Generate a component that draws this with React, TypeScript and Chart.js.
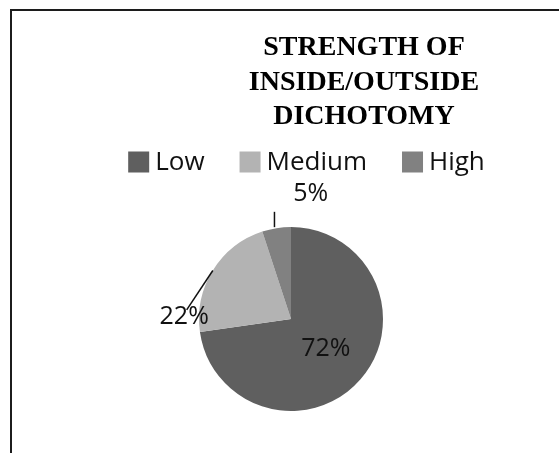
import React, { useEffect, useRef } from "react";
import { Chart, registerables } from "chart.js";

Chart.register(...registerables);

const categories = ["Low", "Medium", "High"];
const values = [72, 22, 5];
const sliceColors = ["#5f5f5f", "#b3b3b3", "#818181"];
const percentLabels = ["72%", "22%", "5%"];
const titleLines = ["STRENGTH OF", "INSIDE/OUTSIDE", "DICHOTOMY"];

const W = 559;
const H = 453;

const decorPlugin = {
  id: "decor",
  beforeDraw(chart: any) {
    const ctx = chart.ctx;
    ctx.save();
    ctx.fillStyle = "#ffffff";
    ctx.fillRect(0, 0, chart.width, chart.height);
    ctx.restore();
  },
  afterDraw(chart: any) {
    const ctx: CanvasRenderingContext2D = chart.ctx;
    ctx.save();

    // frame (top + left border)
    ctx.strokeStyle = "#1c1c1c";
    ctx.lineWidth = 2;
    ctx.beginPath();
    ctx.moveTo(11, chart.height);
    ctx.lineTo(11, 10);
    ctx.lineTo(chart.width, 10);
    ctx.stroke();

    // title
    ctx.fillStyle = "#000";
    ctx.font = "bold 28px 'Liberation Serif'";
    ctx.textAlign = "center";
    ctx.textBaseline = "alphabetic";
    titleLines.forEach((t, i) => ctx.fillText(t, 364, 55 + i * 34.7));

    // legend
    ctx.font = "26px 'Open Sans'";
    const box = 21;
    const gapText = 6;
    const gapItem = 35;
    const widths = categories.map((c) => box + gapText + ctx.measureText(c).width);
    const total = widths.reduce((a, b) => a + b, 0) + gapItem * (categories.length - 1);
    let lx = 306.5 - total / 2;
    const ly = 162;
    ctx.textAlign = "left";
    ctx.textBaseline = "middle";
    categories.forEach((c, i) => {
      ctx.fillStyle = sliceColors[i];
      ctx.fillRect(lx, ly - box / 2, box, box);
      ctx.fillStyle = "#111";
      ctx.fillText(c, lx + box + gapText, ly + 1);
      lx += widths[i] + gapItem;
    });

    // data labels
    const meta = chart.getDatasetMeta(0);
    ctx.font = "25px 'Open Sans'";
    ctx.textAlign = "center";
    ctx.textBaseline = "middle";
    ctx.strokeStyle = "#111";
    ctx.lineWidth = 1.5;
    meta.data.forEach((arc: any, i: number) => {
      const p = arc.getProps(["x", "y", "startAngle", "endAngle", "outerRadius"], true);
      const mid = (p.startAngle + p.endAngle) / 2;
      const r = p.outerRadius;
      const ex = p.x + Math.cos(mid) * r;
      const ey = p.y + Math.sin(mid) * r;
      ctx.fillStyle = "#111";
      if (i === 0) {
        ctx.fillText(percentLabels[i], p.x + Math.cos(mid) * r * 0.5, p.y + Math.sin(mid) * r * 0.5);
      } else if (i === 1) {
        ctx.beginPath();
        ctx.moveTo(ex, ey);
        ctx.lineTo(p.x - 1.134 * r, p.y - 0.1 * r);
        ctx.stroke();
        ctx.fillText(percentLabels[i], p.x - 1.161 * r, p.y - 0.027 * r);
      } else {
        ctx.beginPath();
        ctx.moveTo(ex - 2, ey - 1);
        ctx.lineTo(ex - 2, p.y - 1.165 * r);
        ctx.stroke();
        ctx.fillText(percentLabels[i], p.x + 0.214 * r, p.y - 1.355 * r);
      }
    });
    ctx.restore();
  },
};

export default function App() {
  const ref = useRef<HTMLCanvasElement | null>(null);
  useEffect(() => {
    if (!ref.current) return;
    const chart = new Chart(ref.current, {
      type: "pie",
      data: {
        labels: categories,
        datasets: [
          {
            data: values,
            backgroundColor: sliceColors,
            borderWidth: 0,
            hoverOffset: 0,
          },
        ],
      },
      options: {
        responsive: false,
        animation: false,
        events: [],
        layout: { padding: { left: 199, right: 176, top: 227, bottom: 42 } },
        plugins: {
          legend: { display: false },
          title: { display: false },
          tooltip: { enabled: false },
        },
      },
      plugins: [decorPlugin],
    });
    return () => chart.destroy();
  }, []);
  return (
    <div style={{ position: "absolute", left: 0, top: 0, width: W, height: H }}>
      <canvas ref={ref} width={W} height={H} style={{ width: W, height: H, display: "block" }} />
    </div>
  );
}
